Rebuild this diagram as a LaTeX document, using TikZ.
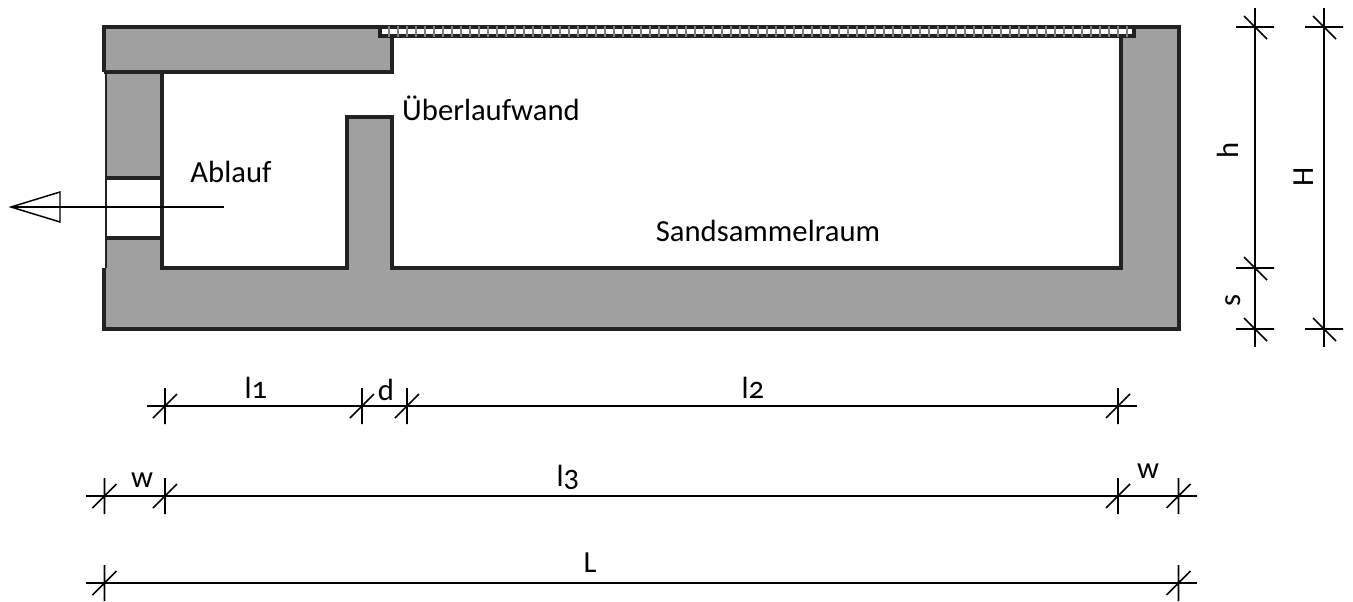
\documentclass[tikz,border=0pt]{standalone}
\usepackage{fontspec}
\setmainfont[Numbers=OldStyle]{Carlito}
\definecolor{wallgray}{HTML}{A0A0A0}
\definecolor{wallline}{HTML}{222222}
% tick marks of the dimension lines
\newcommand{\htick}[1]{\draw [dimline, line width=1.2pt] (#1) ++(0,-18) -- ++(0,36) (#1) ++(-12,12) -- ++(24,-24);}
\newcommand{\vtick}[1]{\draw [dimline, line width=1.2pt] (#1) ++(-19,0) -- ++(38,0) (#1) ++(-11,-11) -- ++(23,23);}

\begin{document}
\begin{tikzpicture}[x=0.75pt, y=-0.75pt,
    wall/.style={draw=wallline, line width=3pt, line join=miter},
    thinwall/.style={draw=wallline, line width=1.5pt},
    dimline/.style={black, line width=1pt},
    label/.style={font=\fontsize{23}{27}\selectfont, inner sep=0pt}]
    \useasboundingbox (0,0) rectangle (1353,601);

    % concrete body
    \fill [wallgray] (105,27) -- (1179,27) -- (1179,329) -- (105,329) -- cycle;
    \fill [white] (162,72) -- (392,72) -- (392,36) -- (1121,36) -- (1121,268) -- (392,268)
      -- (392,117) -- (347,117) -- (347,268) -- (162,268) -- cycle;
    \fill [white] (105,178) rectangle (162,238);

    \draw [wall] (104,268) -- (104,329) -- (1179,329) -- (1179,27) -- (104,27) -- (104,72);
    \draw [wall] (104,72) -- (392,72) -- (392,36);
    \draw [wall] (162,72) -- (162,268) -- (347,268) -- (347,117) -- (392,117) -- (392,268) -- (1121,268) -- (1121,36);
    \draw [thinwall, line width=2.5pt] (105,178) -- (162,178) (105,238) -- (162,238);
    \draw [thinwall] (105.5,72) -- (105.5,268);

    % grating
    \fill [white] (381,29) rectangle (1133,34);
    \draw [wall, line width=3pt] (380,27) -- (380,35.5) -- (1134,35.5) -- (1134,27);
    \foreach \gx in {389,398,...,1130}
      \draw [gray, line width=1pt] (\gx,26) -- (\gx,37);

    % outlet arrow
    \coordinate (inlet) at (224,207);
    \coordinate (tip) at (11,207);
    \coordinate (backtop) at (60,192);
    \coordinate (backbottom) at (60,222);
    \draw [dimline] (inlet) -- (tip);
    \draw [dimline, line width=1.1pt] (tip) -- (backtop) -- (backbottom) -- cycle;

    \node [label] (ablauf) at (231,172) {Ablauf};
    \node [label] (ueberlauf) at (491,108) {Überlaufwand};
    \node [label] (sandraum) at (768,231) {Sandsammelraum};

    % dimension rows
    \coordinate (a1) at (165,406);
    \coordinate (a2) at (362,406);
    \coordinate (a3) at (407,406);
    \coordinate (a4) at (1118,406);
    \coordinate (b1) at (104.5,496);
    \coordinate (b2) at (165,496);
    \coordinate (b3) at (1118,496);
    \coordinate (b4) at (1178.5,496);
    \coordinate (c1) at (104.5,583);
    \coordinate (c2) at (1178.5,583);
    \coordinate (e1) at (1255,27);
    \coordinate (e2) at (1255,268);
    \coordinate (e3) at (1255,329);
    \coordinate (f1) at (1324,27);
    \coordinate (f2) at (1324,329);

    \draw [dimline] (147,406) -- (1137,406);
    \draw [dimline] (86,496) -- (1197,496);
    \draw [dimline] (86,583) -- (1197,583);
    \draw [dimline] (1255,8) -- (1255,347);
    \draw [dimline] (1324,8) -- (1324,347);
    \foreach \t in {a1,a2,a3,a4,b1,b2,b3,b4,c1,c2} {\htick{\t}}
    \foreach \t in {e1,e2,e3,f1,f2} {\vtick{\t}}

    \node [label] (lone) at (256,388) {l1};
    \node [label] (dim) at (386,390) {d};
    \node [label] (ltwo) at (753,388) {l2};
    \node [label] (wleft) at (142,480) {w};
    \node [label] (lthree) at (568,477) {l3};
    \node [label] (wright) at (1148,471) {w};
    \node [label] (ltotal) at (590,563) {L};
    \node [label, rotate=90] (hin) at (1228,150) {h};
    \node [label, rotate=90] (Hout) at (1304,177) {H};
    \node [label, rotate=90] (sfloor) at (1233,300) {s};
\end{tikzpicture}
\end{document}
